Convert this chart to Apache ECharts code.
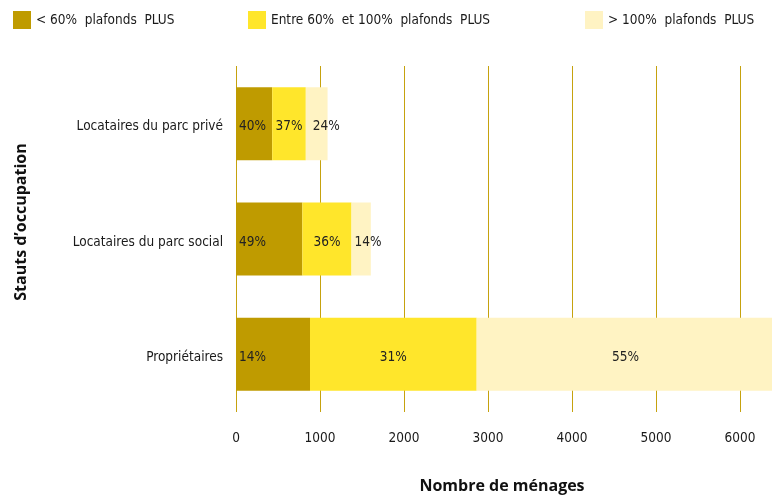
<!DOCTYPE html>
<html>
<head>
<meta charset="utf-8">
<script src="https://cdn.jsdelivr.net/npm/echarts@6/dist/echarts.min.js"></script>
<style>
  html, body { margin: 0; padding: 0; background: #ffffff; }
  #chart { width: 772px; height: 495px; }
</style>
</head>
<body>
<div id="chart"></div>
<script>
// Households by occupancy status and income band (relative to PLUS ceilings)
const categories = ['Locataires du parc privé', 'Locataires du parc social', 'Propriétaires'];
const seriesNames = ['< 60% plafonds PLUS', 'Entre 60% et 100% plafonds PLUS', '> 100% plafonds PLUS'];
const below60 = [431, 790, 881];
const between60and100 = [400, 585, 1984];
const above100 = [259, 230, 3545];
const xTicks = [0, 1000, 2000, 3000, 4000, 5000, 6000, 7000];

const colors = ['#bf9b00', '#ffe62b', '#fff3c3'];
const FONT = '"DejaVu Sans Condensed", "Liberation Sans Narrow", sans-serif';
const TITLE_FONT = '"Open Sans", sans-serif';

const allSeries = [below60, between60and100, above100];
const totals = categories.map((_, i) => below60[i] + between60and100[i] + above100[i]);
const pct = (v, i) => Math.round(v / totals[i] * 100) + '%';

// label placement for each segment (narrow segments get their text pushed to the left edge)
const labelPlacement = [
  [{ position: 'insideLeft', distance: 3 }, { position: 'insideLeft', distance: 3 }, { position: 'insideLeft', distance: 3 }],
  [{ position: 'inside' }, { position: 'inside' }, { position: 'inside' }],
  [{ position: 'insideLeft', distance: 7 }, { position: 'insideLeft', distance: 3 }, { position: 'inside' }]
];

const chart = echarts.init(document.getElementById('chart'), null, { renderer: 'canvas' });

const legends = seriesNames.map((name, k) => ({
  data: [name],
  left: [13, 248, 585][k],
  top: 11,
  padding: 0,
  itemWidth: 18,
  itemHeight: 18,
  icon: 'rect',
  selectedMode: false,
  formatter: n => n.replace(/% /g, '%  ').replace(/ PLUS/g, '  PLUS'),
  textStyle: { fontFamily: FONT, fontSize: 13.5, color: '#1a1a1a' }
}));

const option = {
  backgroundColor: '#ffffff',
  animation: false,
  legend: legends,
  // the plot runs past the right edge of the page, clipping the longest bar
  grid: {
    left: 236, top: 66, width: 588, height: 346,
    containLabel: false,
    outerBoundsMode: 'none'
  },
  xAxis: {
    type: 'value',
    min: xTicks[0],
    max: xTicks[xTicks.length - 1],
    interval: 1000,
    axisLine: { show: false },
    axisTick: { show: false },
    splitLine: { show: true, lineStyle: { color: '#c6a20e', width: 1 } },
    axisLabel: {
      margin: 19,
      fontFamily: FONT,
      fontSize: 13.5,
      color: '#1a1a1a',
      formatter: v => (xTicks.indexOf(v) >= 0 ? String(v) : '')
    }
  },
  yAxis: {
    type: 'category',
    data: categories,
    inverse: true,
    axisLine: { show: false },
    axisTick: { show: false },
    splitLine: { show: false },
    axisLabel: {
      margin: 13,
      formatter: v => '{c|' + v + '}',
      rich: { c: { padding: [6, 0, 0, 0], fontFamily: FONT, fontSize: 13.5, color: '#1a1a1a' } }
    }
  },
  series: allSeries.map((vals, k) => ({
    name: seriesNames[k],
    type: 'bar',
    stack: 'total',
    barWidth: 73,
    itemStyle: { color: colors[k] },
    label: {
      show: true,
      offset: [0, 3],
      fontFamily: FONT,
      fontSize: 13.5,
      color: '#222222',
      formatter: p => pct(p.value, p.dataIndex)
    },
    data: vals.map((v, i) => ({ value: v, label: labelPlacement[k][i] }))
  })),
  graphic: [
    {
      type: 'text',
      x: 502,
      y: 486,
      style: { text: 'Nombre de ménages', fontFamily: TITLE_FONT, fontSize: 16, fontWeight: 'bold', fill: '#111111', align: 'center', verticalAlign: 'middle' }
    },
    {
      type: 'text',
      x: 21,
      y: 222,
      rotation: Math.PI / 2,
      style: { text: 'Stauts d\u2019occupation', fontFamily: TITLE_FONT, fontSize: 16, fontWeight: 'bold', fill: '#111111', align: 'center', verticalAlign: 'middle' }
    }
  ]
};

chart.setOption(option);
</script>
</body>
</html>
